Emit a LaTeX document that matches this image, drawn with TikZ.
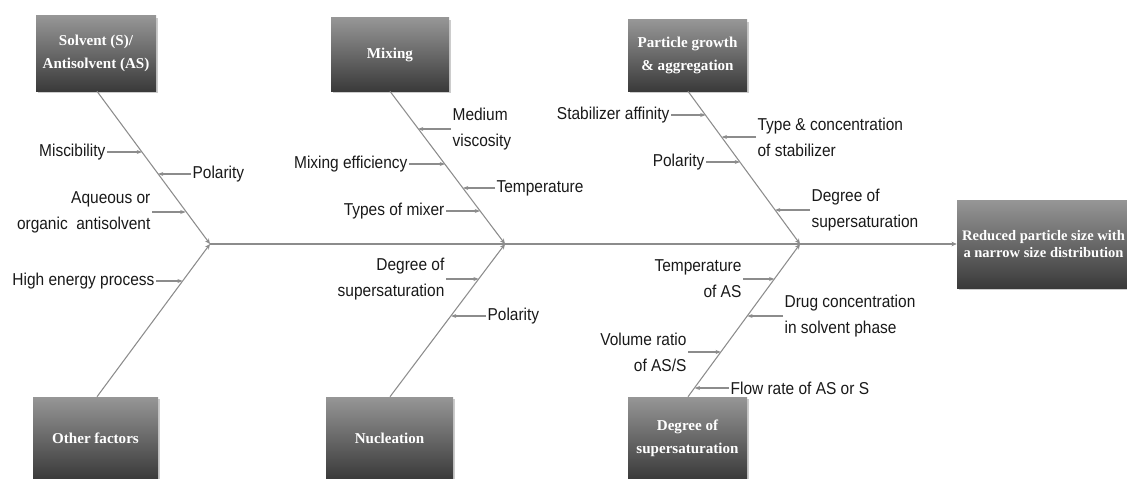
\documentclass[tikz,border=0pt]{standalone}
\usepackage{fontspec}
\setmainfont{Liberation Sans}[FakeStretch=0.9]
\newfontfamily\boxfont{Liberation Serif}
\usetikzlibrary{shadows,arrows.meta}
\definecolor{linegray}{RGB}{140,140,140}
\definecolor{boxtop}{RGB}{150,150,150}
\definecolor{boxbot}{RGB}{58,58,58}
\tikzset{
 cat/.style={rectangle, top color=boxtop, bottom color=boxbot, draw=none, text=white,
   font=\boxfont\bfseries\fontsize{11.3}{17}\selectfont, align=center, inner sep=0pt,
   drop shadow={opacity=0.4,shadow xshift=1.5pt,shadow yshift=-1.5pt}},
 lab/.style={font=\fontsize{12.9}{19.5}\selectfont, inner sep=1pt, text=black!90},
 bone/.style={draw=linegray, line width=0.8pt, -{Stealth[length=4pt,width=3.5pt]}},
 sub/.style={draw=linegray, line width=0.8pt, -{Stealth[length=4pt,width=3pt]}},
}
\begin{document}
\begin{tikzpicture}[x=0.75pt,y=-0.75pt]
\useasboundingbox (0,0) rectangle (1127,478);
% category boxes
\node[cat, minimum width=90pt, minimum height=56.25pt] (solvent) at (96,53.5) {Solvent (S)/\\Antisolvent (AS)};
\node[cat, minimum width=88.5pt, minimum height=54.75pt] (mixing) at (390,54.5) {Mixing};
\node[cat, minimum width=89.25pt, minimum height=53.25pt] (growth) at (687.5,55.5) {Particle growth\\\& aggregation};
\node[cat, minimum width=93.75pt, minimum height=61.5pt] (other) at (95.5,438) {Other factors};
\node[cat, minimum width=95.25pt, minimum height=61.5pt] (nucl) at (389.5,438) {Nucleation};
\node[cat, minimum width=89.25pt, minimum height=61.5pt] (degsup) at (687.5,438) {Degree of\\supersaturation};
\node[cat, minimum width=129.75pt, minimum height=66pt, font=\boxfont\bfseries\fontsize{10.9}{12.5}\selectfont] (result) at (1043.5,244) {Reduced particle size with\\a narrow size distribution};
% junctions
\coordinate (j1) at (210,244);
\coordinate (j2) at (505,244);
\coordinate (j3) at (800,244);
% spine
\draw[bone] (j1) -- (result.west);
% bones
\draw[bone] (solvent.south -| 97,0) -- (j1);
\draw[bone] (other.north -| 97,0) -- (j1);
\draw[bone] (mixing.south) -- (j2);
\draw[bone] (nucl.north -| 390,0) -- (j2);
\draw[bone] (growth.south -| 688,0) -- (j3);
\draw[bone] (degsup.north -| 688,0) -- (j3);
% bone points
\coordinate (p1) at (142,152);
\coordinate (p2) at (158,174);
\coordinate (p3) at (185.6,212);
\coordinate (p4) at (182.7,281);
\coordinate (p5) at (418,129);
\coordinate (p6) at (445,164);
\coordinate (p7) at (463,188);
\coordinate (p8) at (480,211);
\coordinate (p9) at (478.7,279);
\coordinate (p10) at (451,316);
\coordinate (p11) at (705.6,115);
\coordinate (p12) at (721.7,137);
\coordinate (p13) at (740,162);
\coordinate (p14) at (775,210);
\coordinate (p15) at (774.4,279);
\coordinate (p16) at (747.3,316);
\coordinate (p17) at (720.9,352);
\coordinate (p18) at (694.6,388);
% labels
\node[lab, anchor=east] (l1) at (107,152) {Miscibility};
\node[lab, anchor=west] (l2) at (191,174) {Polarity};
\node[lab, anchor=east, align=right] (l3) at (152,212) {Aqueous or\\organic~ antisolvent};
\node[lab, anchor=east] (l4) at (156,281) {High energy process};
\node[lab, anchor=west, align=left] (l5) at (451,129) {Medium\\viscosity};
\node[lab, anchor=east] (l6) at (409,164) {Mixing efficiency};
\node[lab, anchor=west] (l7) at (495,188) {Temperature};
\node[lab, anchor=east] (l8) at (446,211) {Types of mixer};
\node[lab, anchor=east, align=right] (l9) at (446,279) {Degree of\\supersaturation};
\node[lab, anchor=west] (l10) at (486,316) {Polarity};
\node[lab, anchor=east] (l11) at (671,115) {Stabilizer affinity};
\node[lab, anchor=west, align=left] (l12) at (756,137) {Type \& concentration\\of stabilizer};
\node[lab, anchor=east] (l13) at (706,162) {Polarity};
\node[lab, anchor=west, align=left] (l14) at (810,210) {Degree of\\supersaturation};
\node[lab, anchor=east, align=right] (l15) at (743,279) {Temperature\\of AS};
\node[lab, anchor=west, align=left] (l16) at (783,316) {Drug concentration\\in solvent phase};
\node[lab, anchor=east, align=right] (l17) at (688,352) {Volume ratio\\of AS/S};
\node[lab, anchor=west] (l18) at (729,388) {Flow rate of AS or S};
% sub arrows
\draw[sub] (l1.east) -- (p1);
\draw[sub] (l2.west) -- (p2);
\draw[sub] (l3.east) -- (p3);
\draw[sub] (l4.east) -- (p4);
\draw[sub] (l5.west) -- (p5);
\draw[sub] (l6.east) -- (p6);
\draw[sub] (l7.west) -- (p7);
\draw[sub] (l8.east) -- (p8);
\draw[sub] (l9.east) -- (p9);
\draw[sub] (l10.west) -- (p10);
\draw[sub] (l11.east) -- (p11);
\draw[sub] (l12.west) -- (p12);
\draw[sub] (l13.east) -- (p13);
\draw[sub] (l14.west) -- (p14);
\draw[sub] (l15.east) -- (p15);
\draw[sub] (l16.west) -- (p16);
\draw[sub] (l17.east) -- (p17);
\draw[sub] (l18.west) -- (p18);
\end{tikzpicture}
\end{document}
